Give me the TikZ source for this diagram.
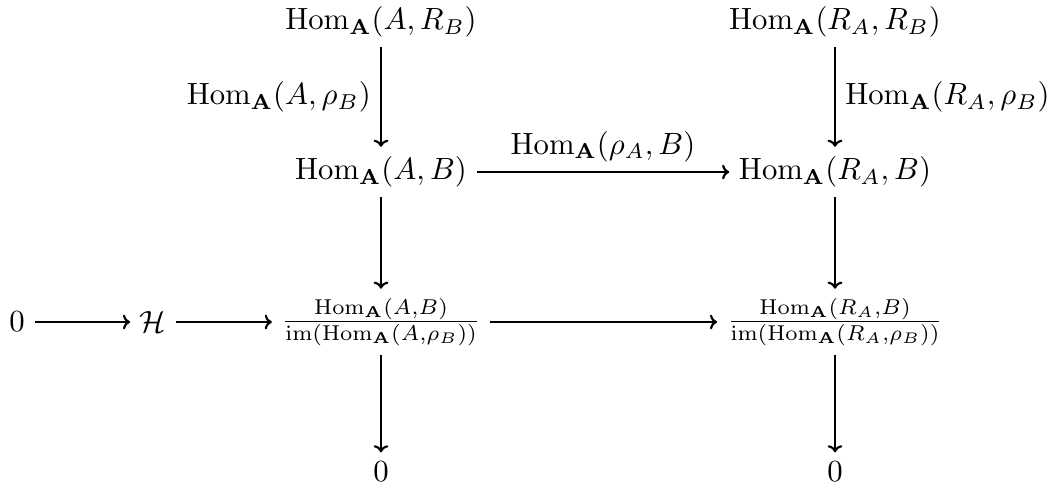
\documentclass[tikz,border=0pt]{standalone}
\usepackage{amsmath}
\usepackage{tikz}
\usetikzlibrary{positioning, arrows.meta}
\newcommand{\HomA}{\operatorname{Hom}_{\mathbf{A}}}
\tikzset{
  obj/.style={inner sep=3pt},
  map/.style={-{To[length=2.3pt, width=4.8pt]}, line width=0.7pt},
  lbl/.style={inner sep=3pt}
}

\begin{document}
\begin{tikzpicture}[x=0.01145cm, y=-0.01145cm]
\useasboundingbox (0,0) rectangle (1050,487);
% objects
\node[obj] (zl) at (17,322) {$0$};
\node[obj] (H) at (153,322) {$\mathcal{H}$};
\node[obj] (tl) at (381,22) {$\HomA(A,R_B)$};
\node[obj] (ml) at (381,172) {$\HomA(A,B)$};
\node[obj] (ql) at (381,322) {$\frac{\HomA(A,B)}{\operatorname{im}(\HomA(A,\rho_B))}$};
\node[obj] (bl) at (381,472) {$0$};
\node[obj] (tr) at (835,22) {$\HomA(R_A,R_B)$};
\node[obj] (mr) at (835,172) {$\HomA(R_A,B)$};
\node[obj] (qr) at (835,322) {$\frac{\HomA(R_A,B)}{\operatorname{im}(\HomA(R_A,\rho_B))}$};
\node[obj] (br) at (835,472) {$0$};
% horizontal maps
\draw[map] (zl) -- (H);
\draw[map] (H) -- (ql);
\draw[map] (ml) -- node[lbl, above] {$\HomA(\rho_A,B)$} (mr);
\draw[map] (ql) -- (qr);
% vertical maps
\draw[map] (tl) -- node[lbl, left] {$\HomA(A,\rho_B)$} (ml);
\draw[map] (ml) -- (ql);
\draw[map] (ql) -- (bl);
\draw[map] (tr) -- node[lbl, right] {$\HomA(R_A,\rho_B)$} (mr);
\draw[map] (mr) -- (qr);
\draw[map] (qr) -- (br);
\end{tikzpicture}
\end{document}
